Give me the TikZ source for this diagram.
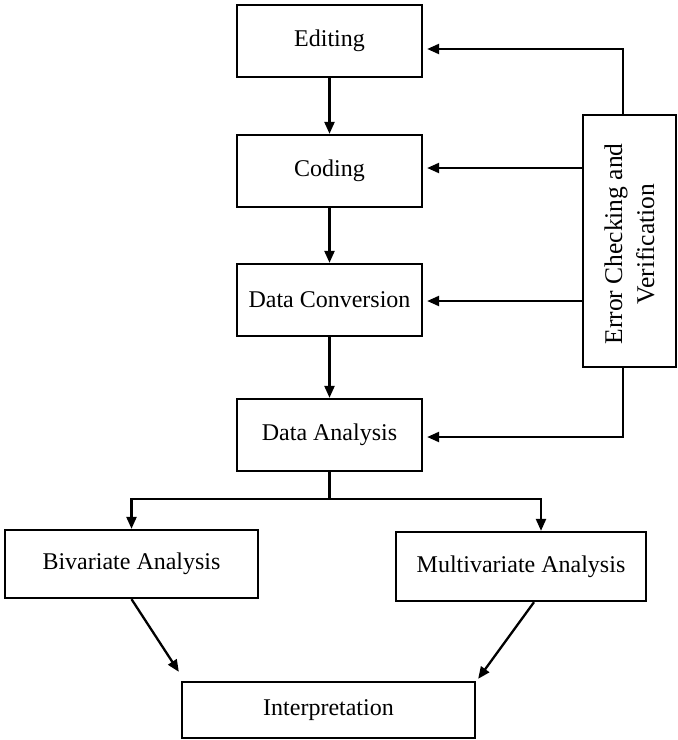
\documentclass[tikz,border=0pt]{standalone}
\usepackage{fontspec}
\setmainfont{Liberation Serif}
\usetikzlibrary{arrows.meta,calc}

\begin{document}
\begin{tikzpicture}[x=1pt,y=-1pt,
  every node/.style={font=\fontsize{24}{32}\selectfont},
  stage/.style={draw=black, line width=2.3pt, rectangle, inner sep=0pt, align=center},
  link/.style={draw=black, line width=2.3pt, -{Triangle[length=12pt,width=10pt]}},
  plain/.style={draw=black, line width=2.3pt}
]
\useasboundingbox (0,0) rectangle (678,740);

% main processing column
\node[stage, minimum width=185pt, minimum height=72pt] (edit) at (329.5,41) {Editing};
\node[stage, minimum width=185pt, minimum height=72pt] (code) at (329.5,171) {Coding};
\node[stage, minimum width=185pt, minimum height=72pt] (conv) at (329.5,300) {Data Conversion};
\node[stage, minimum width=185pt, minimum height=72pt] (anal) at (329.5,435) {Data Analysis};

% checking box on the right
\node[stage, minimum width=93pt, minimum height=252pt] (check) at (629.5,241) {};
\node[rotate=90, align=center, font=\fontsize{25.5}{32}\selectfont] (checktxt) at ($(check.center)+(0,3)$) {Error Checking and\\Verification};

% analysis branches and final stage
\node[stage, minimum width=253pt, minimum height=68pt] (biv) at (131.5,564) {Bivariate Analysis};
\node[stage, minimum width=250pt, minimum height=69pt] (multi) at (521,566.5) {Multivariate Analysis};
\node[stage, minimum width=293pt, minimum height=56pt] (interp) at (328.5,710) {Interpretation};

% column flow
\draw[link] (edit.south) -- (code.north);
\draw[link] (code.south) -- (conv.north);
\draw[link] (conv.south) -- (anal.north);

% feedback from checking
\coordinate (ctop) at ($(check.north)+(-6.5,0)$);
\coordinate (cbot) at ($(check.south)+(-6.5,0)$);
\draw[link, shorten >=4pt] (ctop) |- ($(edit.east)+(0,8)$);
\draw[link, shorten >=4pt] (check.west |- 0,168) -- (code.east |- 0,168);
\draw[link, shorten >=4pt] (check.west |- 0,301) -- (conv.east |- 0,301);
\draw[link, shorten >=4pt] (cbot) |- ($(anal.east)+(0,2)$);

% split into the two analyses
\coordinate (split) at ($(anal.south)+(0,27)$);
\draw[plain] (anal.south) -- (split);
\draw[link] (split) -| (biv.north);
\draw[link] (split) -| ($(multi.north)+(20,0)$);

% merge into interpretation
\draw[link] (biv.south) -- ($(interp.north west)+(-2,-9)$);
\draw[link] ($(multi.south)+(13,0)$) -- ($(interp.north east)+(2,-2)$);
\end{tikzpicture}
\end{document}
